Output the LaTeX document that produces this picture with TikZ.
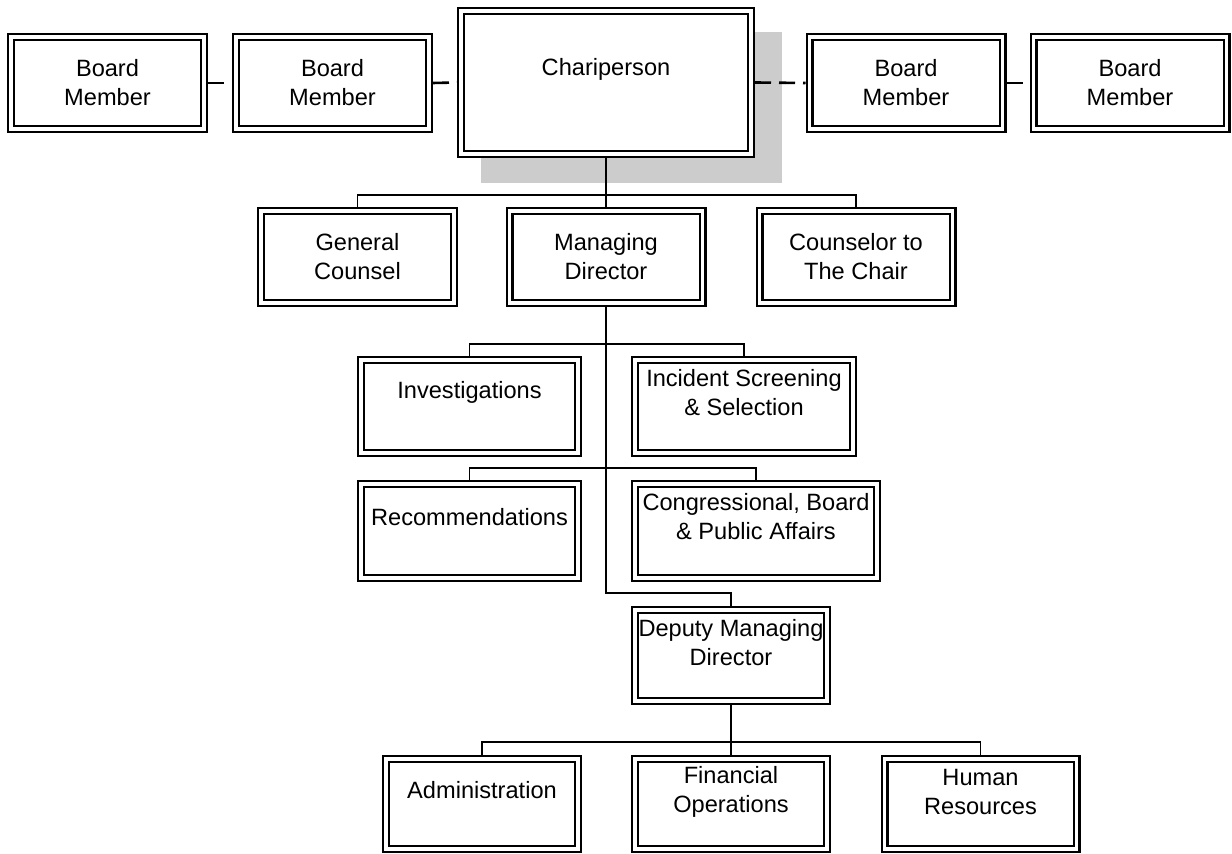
\documentclass[tikz,border=0pt]{standalone}
\usepackage{fontspec}
\setmainfont{Liberation Sans}
\usetikzlibrary{backgrounds}

\begin{document}
\begin{tikzpicture}[x=0.5pt,y=-0.5pt,
    unit/.style={draw,double,line width=1.1pt,double distance=1.8pt,fill=white,outer sep=2pt,inner sep=0pt},
    txt/.style={align=center,font=\fontsize{11.8}{14.5}\selectfont},
    trunk/.style={line width=1.2pt},
    branch/.style={line width=0.85pt},
    peer/.style={line width=1.3pt,dash pattern=on 8pt off 4pt},
    shadowfill/.style={fill=black!20}]
  \useasboundingbox (0,0) rectangle (1232,854);
  % board row
  \node[unit,minimum width=96.5pt,minimum height=46pt,label={[txt]center:{Board\\Member}}] (bm1) at (107.5,83) {};
  \node[unit,minimum width=96.5pt,minimum height=46pt,label={[txt]center:{Board\\Member}}] (bm2) at (332.5,83) {};
  \node[unit,minimum width=145pt,minimum height=71.5pt,label={[txt,yshift=6.75pt]center:Chariperson}] (chair) at (606,82.5) {};
  \node[unit,minimum width=96.5pt,minimum height=46pt,label={[txt]center:{Board\\Member}}] (bm3) at (906,83) {};
  \node[unit,minimum width=96.5pt,minimum height=46pt,label={[txt]center:{Board\\Member}}] (bm4) at (1130,83) {};
  \begin{scope}[on background layer]
    \fill[shadowfill] ([shift={(24,25)}]chair.north west) rectangle ([shift={(27,25)}]chair.south east);
  \end{scope}
  \draw[peer] (bm1.east) -- (bm2.west);
  \draw[peer] (bm2.east) -- (chair.west);
  \draw[peer] (chair.east) -- (bm3.west);
  \draw[peer] (bm3.east) -- (bm4.west);

  % staff of the chair
  \node[unit,minimum width=96.5pt,minimum height=46pt,label={[txt]center:{General\\Counsel}}] (gc) at (357.5,257) {};
  \node[unit,minimum width=96.5pt,minimum height=46pt,label={[txt]center:{Managing\\Director}}] (md) at (606,257) {};
  \node[unit,minimum width=96.5pt,minimum height=46pt,label={[txt]center:{Counselor to\\The Chair}}] (cc) at (856,257) {};
  \coordinate (bus1) at (606,195);
  \draw[trunk] (chair.south) -- (md.north);
  \draw[branch] (gc.north) |- (bus1) -| (cc.north);

  % offices
  \node[unit,minimum width=108.5pt,minimum height=46.5pt,label={[txt,yshift=7pt]center:Investigations}] (inv) at (469.5,406.5) {};
  \node[unit,minimum width=109pt,minimum height=46.5pt,label={[txt,yshift=7pt]center:{Incident Screening\\\& Selection}}] (isc) at (744,406.5) {};
  \node[unit,minimum width=108.5pt,minimum height=47pt,label={[txt,yshift=7pt]center:Recommendations}] (rec) at (469.5,531) {};
  \node[unit,minimum width=121pt,minimum height=47pt,label={[txt,yshift=7pt]center:{Congressional, Board\\\& Public Affairs}}] (cpa) at (756,531) {};
  \node[unit,minimum width=96pt,minimum height=45.5pt,label={[txt,yshift=6.5pt]center:{Deputy Managing\\Director}}] (dmd) at (731,655.5) {};
  \coordinate (bus2) at (606,344);
  \coordinate (bus3) at (606,468);
  \coordinate (bus4) at (606,593);
  \draw[trunk] (md.south) |- (bus4) -| (dmd.north);
  \draw[branch] (inv.north) |- (bus2) -| (isc.north);
  \draw[branch] (rec.north) |- (bus3) -| (cpa.north);

  % under the deputy
  \node[unit,minimum width=96pt,minimum height=45pt,label={[txt,yshift=7pt]center:Administration}] (adm) at (482,804) {};
  \node[unit,minimum width=96pt,minimum height=45pt,label={[txt,yshift=6pt]center:{Financial\\Operations}}] (fin) at (731,804) {};
  \node[unit,minimum width=96pt,minimum height=45pt,label={[txt,yshift=6pt]center:{Human\\Resources}}] (hr) at (980.5,804) {};
  \coordinate (bus5) at (731,742);
  \draw[trunk] (dmd.south) -- (fin.north);
  \draw[branch] (adm.north) |- (bus5) -| (hr.north);
\end{tikzpicture}
\end{document}
